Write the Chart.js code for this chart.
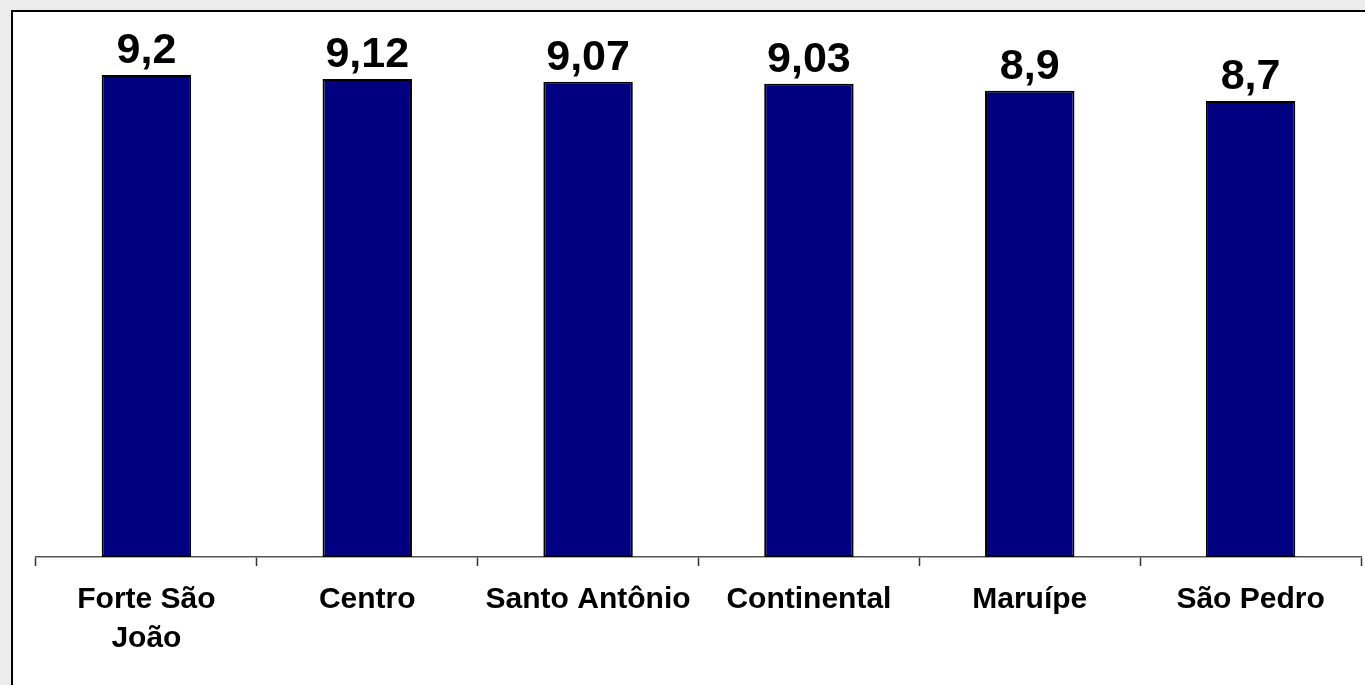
<!DOCTYPE html>
<html>
<head>
<meta charset="utf-8">
<script src="https://cdn.jsdelivr.net/npm/chart.js@4"></script>
<style>
  body { margin: 0; background: #ececec; overflow: hidden; }
  #frame { position: absolute; left: 11px; top: 10px; width: 1400px; height: 720px;
           background: #fff; border: 2px solid #000; }
  #wrap { position: absolute; left: 0; top: 0; width: 1365px; height: 685px; }
</style>
</head>
<body>
<div id="frame"></div>
<div id="wrap"><canvas id="chart"></canvas></div>
<script>
var categories = [['Forte São', 'João'], 'Centro', 'Santo Antônio', 'Continental', 'Maruípe', 'São Pedro'];
var values = [9.2, 9.12, 9.07, 9.03, 8.9, 8.7];
var valueLabels = ['9,2', '9,12', '9,07', '9,03', '8,9', '8,7'];

var fontFamily = '"Liberation Sans", Arial, sans-serif';

// draws the value above each bar
var barLabels = {
    id: 'barLabels',
    afterDatasetsDraw: function(chart) {
        var ctx = chart.ctx;
        var meta = chart.getDatasetMeta(0);
        ctx.save();
        ctx.fillStyle = '#000';
        ctx.font = 'bold 43px ' + fontFamily;
        ctx.textAlign = 'center';
        ctx.textBaseline = 'alphabetic';
        meta.data.forEach(function(bar, i) {
            ctx.fillText(valueLabels[i], bar.x, bar.y - 12);
        });
        ctx.restore();
    }
};

var ctx = document.getElementById('chart').getContext('2d');
var myChart = new Chart(ctx, {
    type: 'bar',
    data: {
        labels: categories,
        datasets: [{
            data: values,
            backgroundColor: '#000080',
            borderColor: '#000',
            borderWidth: 2,
            borderSkipped: false,
            categoryPercentage: 1,
            barPercentage: 0.405
        }]
    },
    options: {
        responsive: true,
        maintainAspectRatio: false,
        animation: false,
        layout: { padding: { left: 36, right: 4, top: 33, bottom: 0 } },
        plugins: {
            legend: { display: false },
            tooltip: { enabled: false }
        },
        scales: {
            y: { display: false, min: 0, max: 10 },
            x: {
                afterFit: function(axis) { axis.height = 128; },
                border: { display: true, color: '#555', width: 1.5 },
                grid: { offset: true, drawOnChartArea: false, drawTicks: true,
                        tickLength: 9, tickColor: '#333', tickWidth: 1.5 },
                ticks: {
                    color: '#000',
                    padding: 14,
                    maxRotation: 0,
                    autoSkip: false,
                    font: { family: fontFamily, size: 30, weight: 'bold', lineHeight: 1.3 }
                }
            }
        }
    },
    plugins: [barLabels]
});
</script>
</body>
</html>
